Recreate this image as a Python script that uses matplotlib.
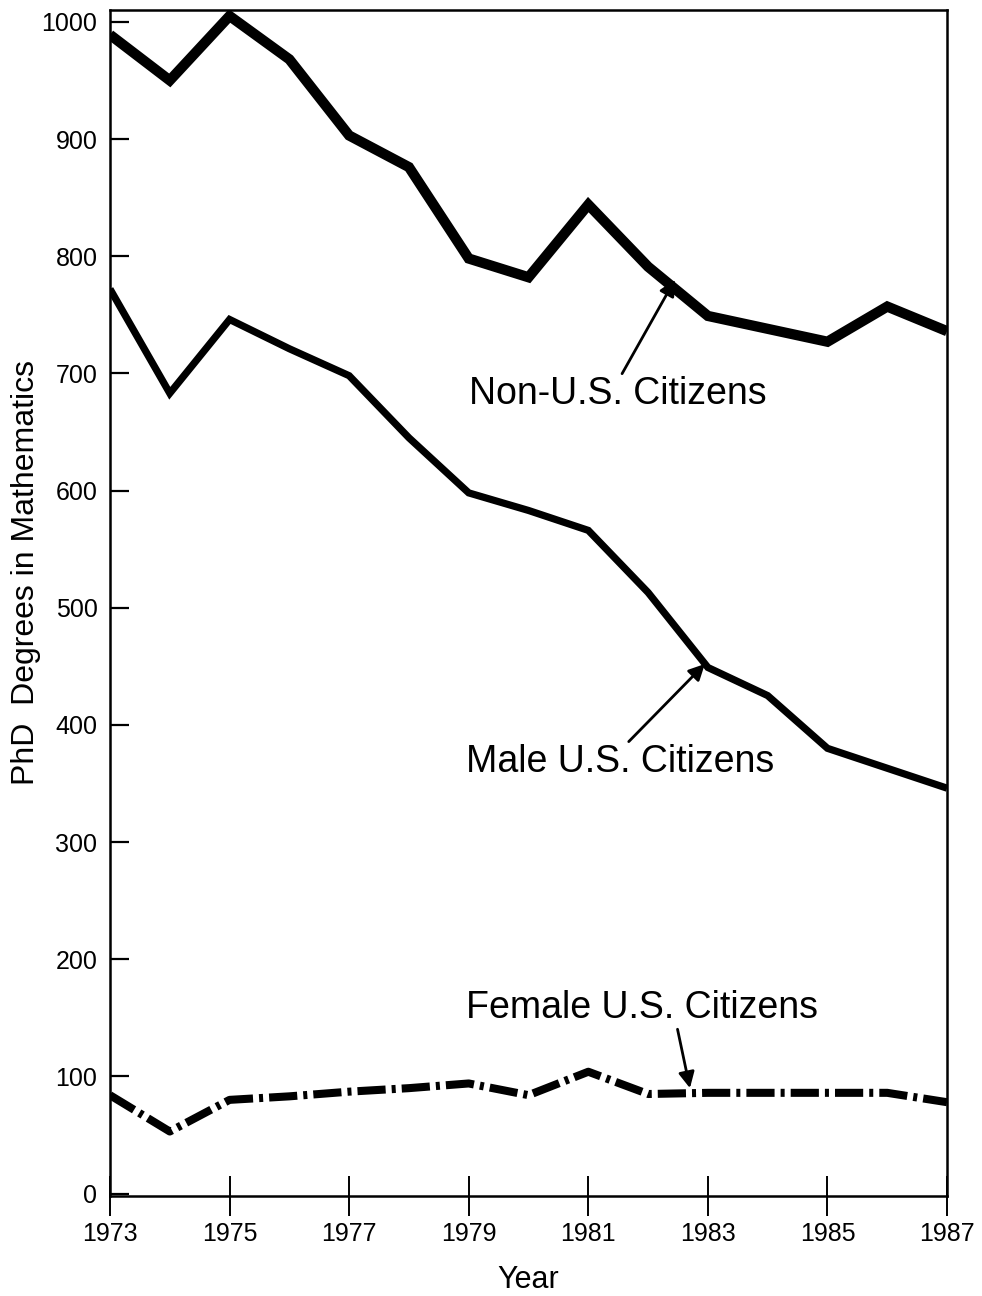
import matplotlib
matplotlib.use("Agg")
import matplotlib.pyplot as plt

years = [1973, 1974, 1975, 1976, 1977, 1978, 1979, 1980, 1981, 1982, 1983, 1984, 1985, 1986, 1987]
non_us = [989, 950, 1005, 968, 903, 876, 798, 782, 844, 791, 749, 738, 727, 757, 736]
male_us = [772, 683, 746, 721, 698, 645, 598, 583, 566, 513, 449, 425, 380, 363, 346]
female_us = [84, 53, 80, 83, 87, 90, 94, 84, 104, 85, 86, 86, 86, 86, 78]

x_ticks = [1973, 1975, 1977, 1979, 1981, 1983, 1985, 1987]
y_ticks = [0, 100, 200, 300, 400, 500, 600, 700, 800, 900, 1000]

plt.rcParams['font.family'] = ['Liberation Sans', 'DejaVu Sans']

fig = plt.figure(figsize=(9.82, 12.96), dpi=100)
ax = fig.add_axes([0.112, 0.0772, 0.8524, 0.915])

ax.plot(years, non_us, color='black', lw=7.4, solid_joinstyle='miter', solid_capstyle='butt')
ax.plot(years, male_us, color='black', lw=5.2, solid_joinstyle='miter', solid_capstyle='butt')
ax.plot(years, female_us, color='black', lw=5.8, linestyle=(0, (3.5, 0.75, 0.5, 0.75)),
        dash_capstyle='butt')

ax.set_xlim(1973, 1987)
ax.set_ylim(-2, 1010)
ax.set_xticks(x_ticks)
ax.set_yticks(y_ticks)
ax.set_xticklabels([str(t) for t in x_ticks])
ax.set_yticklabels([str(t) for t in y_ticks])

for s in ax.spines.values():
    s.set_linewidth(1.8)

ax.tick_params(axis='y', direction='in', length=14, width=1.6, labelsize=18, pad=9)
ax.tick_params(axis='x', direction='inout', length=29, width=1.4, labelsize=18, pad=4)

ax.set_xlabel('Year', fontsize=22, labelpad=14)
ax.set_ylabel('PhD  Degrees in Mathematics', fontsize=23)
ax.yaxis.set_label_coords(-0.083, 0.526)

arrow = dict(arrowstyle='-|>', color='black', lw=2.0, mutation_scale=24, shrinkA=0, shrinkB=0)
ax.annotate('Non-U.S. Citizens', xy=(1982.45, 780), xytext=(1979.0, 682),
            fontsize=27, ha='left', va='center',
            arrowprops=dict(arrow, relpos=(0.51, 1.0)))
ax.annotate('Male U.S. Citizens', xy=(1982.95, 452), xytext=(1978.95, 368),
            fontsize=27, ha='left', va='center',
            arrowprops=dict(arrow, relpos=(0.52, 1.0)))
ax.annotate('Female U.S. Citizens', xy=(1982.7, 90), xytext=(1978.95, 158),
            fontsize=27, ha='left', va='center',
            arrowprops=dict(arrow, relpos=(0.6, 0.0)))

fig.savefig('out.png', dpi=100)
